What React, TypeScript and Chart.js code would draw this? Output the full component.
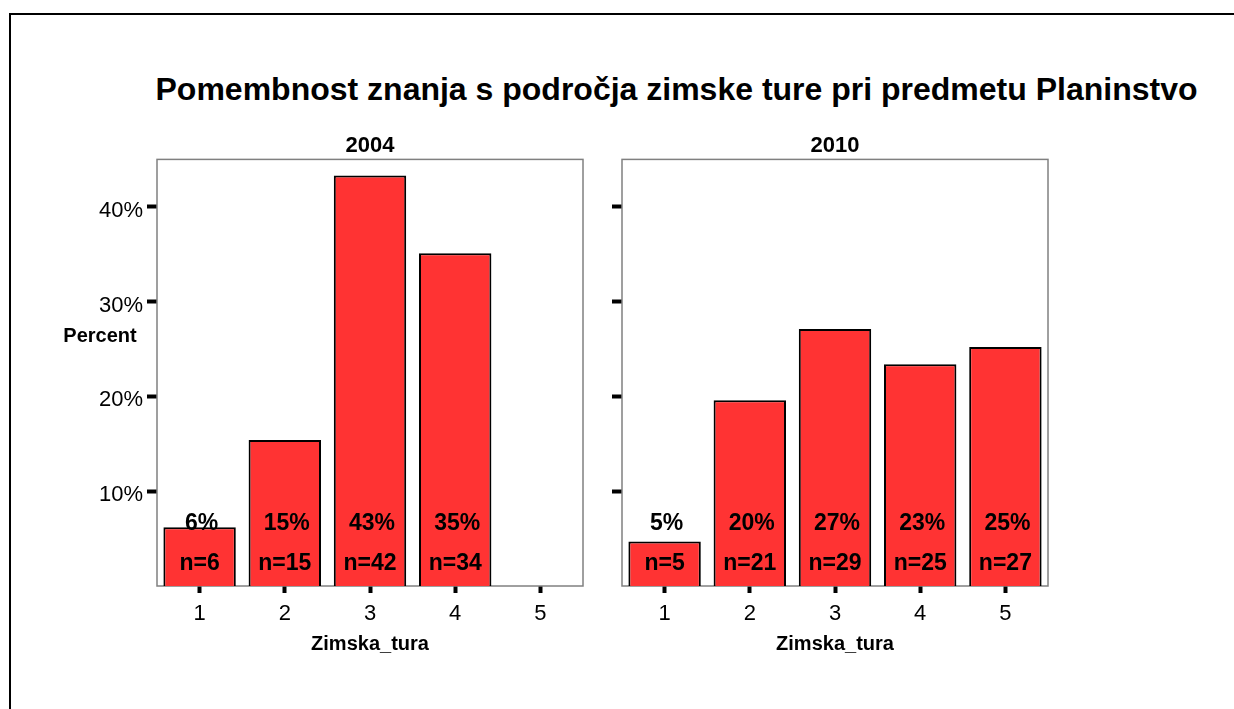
import React, { useEffect, useRef } from "react";
import { Chart, registerables } from "chart.js";

Chart.register(...registerables);

const categories = ["1", "2", "3", "4", "5"];
const pct2004: (number | null)[] = [6.2, 15.4, 43.3, 35.1, null];
const n2004: (number | null)[] = [6, 15, 42, 34, null];
const pctLabels2004 = ["6%", "15%", "43%", "35%", ""];
const pct2010: (number | null)[] = [4.7, 19.6, 27.1, 23.4, 25.2];
const n2010: (number | null)[] = [5, 21, 29, 25, 27];
const pctLabels2010 = ["5%", "20%", "27%", "23%", "25%"];
const yTicks = [10, 20, 30, 40];

const FONT = "'Liberation Sans', Arial, sans-serif";
const BAR_RED = "#FF3333";

function makeChart(
  canvas: HTMLCanvasElement,
  panelTitle: string,
  values: (number | null)[],
  counts: (number | null)[],
  pctLabels: string[],
  showYLabels: boolean,
  yAxisWidth: number,
  padRight: number
) {
  const framePlugin = {
    id: "frame",
    beforeDatasetsDraw(chart: any) {
      const { ctx, chartArea } = chart;
      ctx.save();
      ctx.strokeStyle = "#808080";
      ctx.lineWidth = 1.5;
      ctx.strokeRect(chartArea.left, chartArea.top, chartArea.right - chartArea.left, chartArea.bottom - chartArea.top);
      ctx.restore();
    },
  };
  const labelPlugin = {
    id: "barLabels",
    afterDatasetsDraw(chart: any) {
      const { ctx, chartArea } = chart;
      const meta = chart.getDatasetMeta(0);
      ctx.save();
      ctx.fillStyle = "#000";
      ctx.font = `bold 23px ${FONT}`;
      ctx.textAlign = "center";
      ctx.textBaseline = "middle";
      meta.data.forEach((bar: any, i: number) => {
        if (values[i] == null) return;
        ctx.fillText(pctLabels[i], bar.x + 2, chartArea.bottom - 62);
        ctx.fillText("n=" + counts[i], bar.x, chartArea.bottom - 22);
      });
      if (showYLabels) {
        ctx.font = `bold 20px ${FONT}`;
        ctx.fillText("Percent", chartArea.left - 57, 216);
      }
      ctx.restore();
    },
  };

  return new Chart(canvas, {
    type: "bar",
    data: {
      labels: categories,
      datasets: [
        {
          data: values,
          backgroundColor: BAR_RED,
          borderColor: "#000",
          borderWidth: 2,
          barPercentage: 0.85,
          categoryPercentage: 1,
        },
      ],
    },
    plugins: [framePlugin, labelPlugin],
    options: {
      animation: false,
      responsive: false,
      maintainAspectRatio: false,
      layout: { padding: { left: 0, right: padRight, top: 0, bottom: 0 } },
      plugins: {
        legend: { display: false },
        tooltip: { enabled: false },
        title: {
          display: true,
          text: panelTitle,
          fullSize: false,
          color: "#000",
          font: { family: FONT, size: 22, weight: "bold", lineHeight: 1.2 },
          padding: { top: 13, bottom: 0 },
        },
      },
      scales: {
        x: {
          type: "category",
          offset: true,
          grid: {
            offset: false,
            drawOnChartArea: false,
            drawTicks: true,
            tickLength: 7,
            tickWidth: 4,
            tickColor: "#000",
          },
          border: { display: false },
          ticks: { color: "#000", font: { family: FONT, size: 22 }, padding: 8, maxRotation: 0 },
          title: {
            display: true,
            text: "Zimska_tura",
            color: "#000",
            font: { family: FONT, size: 20, weight: "bold", lineHeight: 1.2 },
            padding: { top: 0, bottom: 0 },
          },
          afterFit(scale: any) {
            scale.height = 70;
          },
        },
        y: {
          type: "linear",
          min: 0,
          max: 45,
          afterBuildTicks(scale: any) {
            scale.ticks = yTicks.map((v) => ({ value: v }));
          },
          grid: {
            drawOnChartArea: false,
            drawTicks: true,
            tickLength: 10,
            tickWidth: 4,
            tickColor: "#000",
          },
          border: { display: false },
          ticks: {
            display: showYLabels,
            color: "#000",
            font: { family: FONT, size: 22 },
            padding: 4,
            labelOffset: 4,
            callback: (v: any) => v + "%",
          },
          afterFit(scale: any) {
            scale.width = yAxisWidth;
          },
        },
      },
    } as any,
  });
}

export default function App() {
  const ref1 = useRef<HTMLCanvasElement>(null);
  const ref2 = useRef<HTMLCanvasElement>(null);

  useEffect(() => {
    const c1 = makeChart(ref1.current!, "2004", pct2004, n2004, pctLabels2004, true, 157, 17);
    const c2 = makeChart(ref2.current!, "2010", pct2010, n2010, pctLabels2010, false, 22, 186);
    return () => {
      c1.destroy();
      c2.destroy();
    };
  }, []);

  return (
    <div
      style={{
        position: "absolute",
        left: 0,
        top: 0,
        width: 1234,
        height: 709,
        overflow: "hidden",
        background: "#fff",
        fontFamily: FONT,
      }}
    >
      <div
        style={{
          position: "absolute",
          left: 9,
          top: 13,
          width: 1400,
          height: 900,
          borderLeft: "2px solid #000",
          borderTop: "2px solid #000",
        }}
      />
      <div
        style={{
          position: "absolute",
          left: 0,
          width: 1353,
          top: 73,
          textAlign: "center",
          fontSize: 32,
          lineHeight: "32px",
          fontWeight: "bold",
          color: "#000",
          whiteSpace: "nowrap",
        }}
      >
        Pomembnost znanja s področja zimske ture pri predmetu Planinstvo
      </div>
      <canvas
        ref={ref1}
        width={600}
        height={536}
        style={{ position: "absolute", left: 0, top: 120, width: 600, height: 536 }}
      />
      <canvas
        ref={ref2}
        width={634}
        height={536}
        style={{ position: "absolute", left: 600, top: 120, width: 634, height: 536 }}
      />
    </div>
  );
}
